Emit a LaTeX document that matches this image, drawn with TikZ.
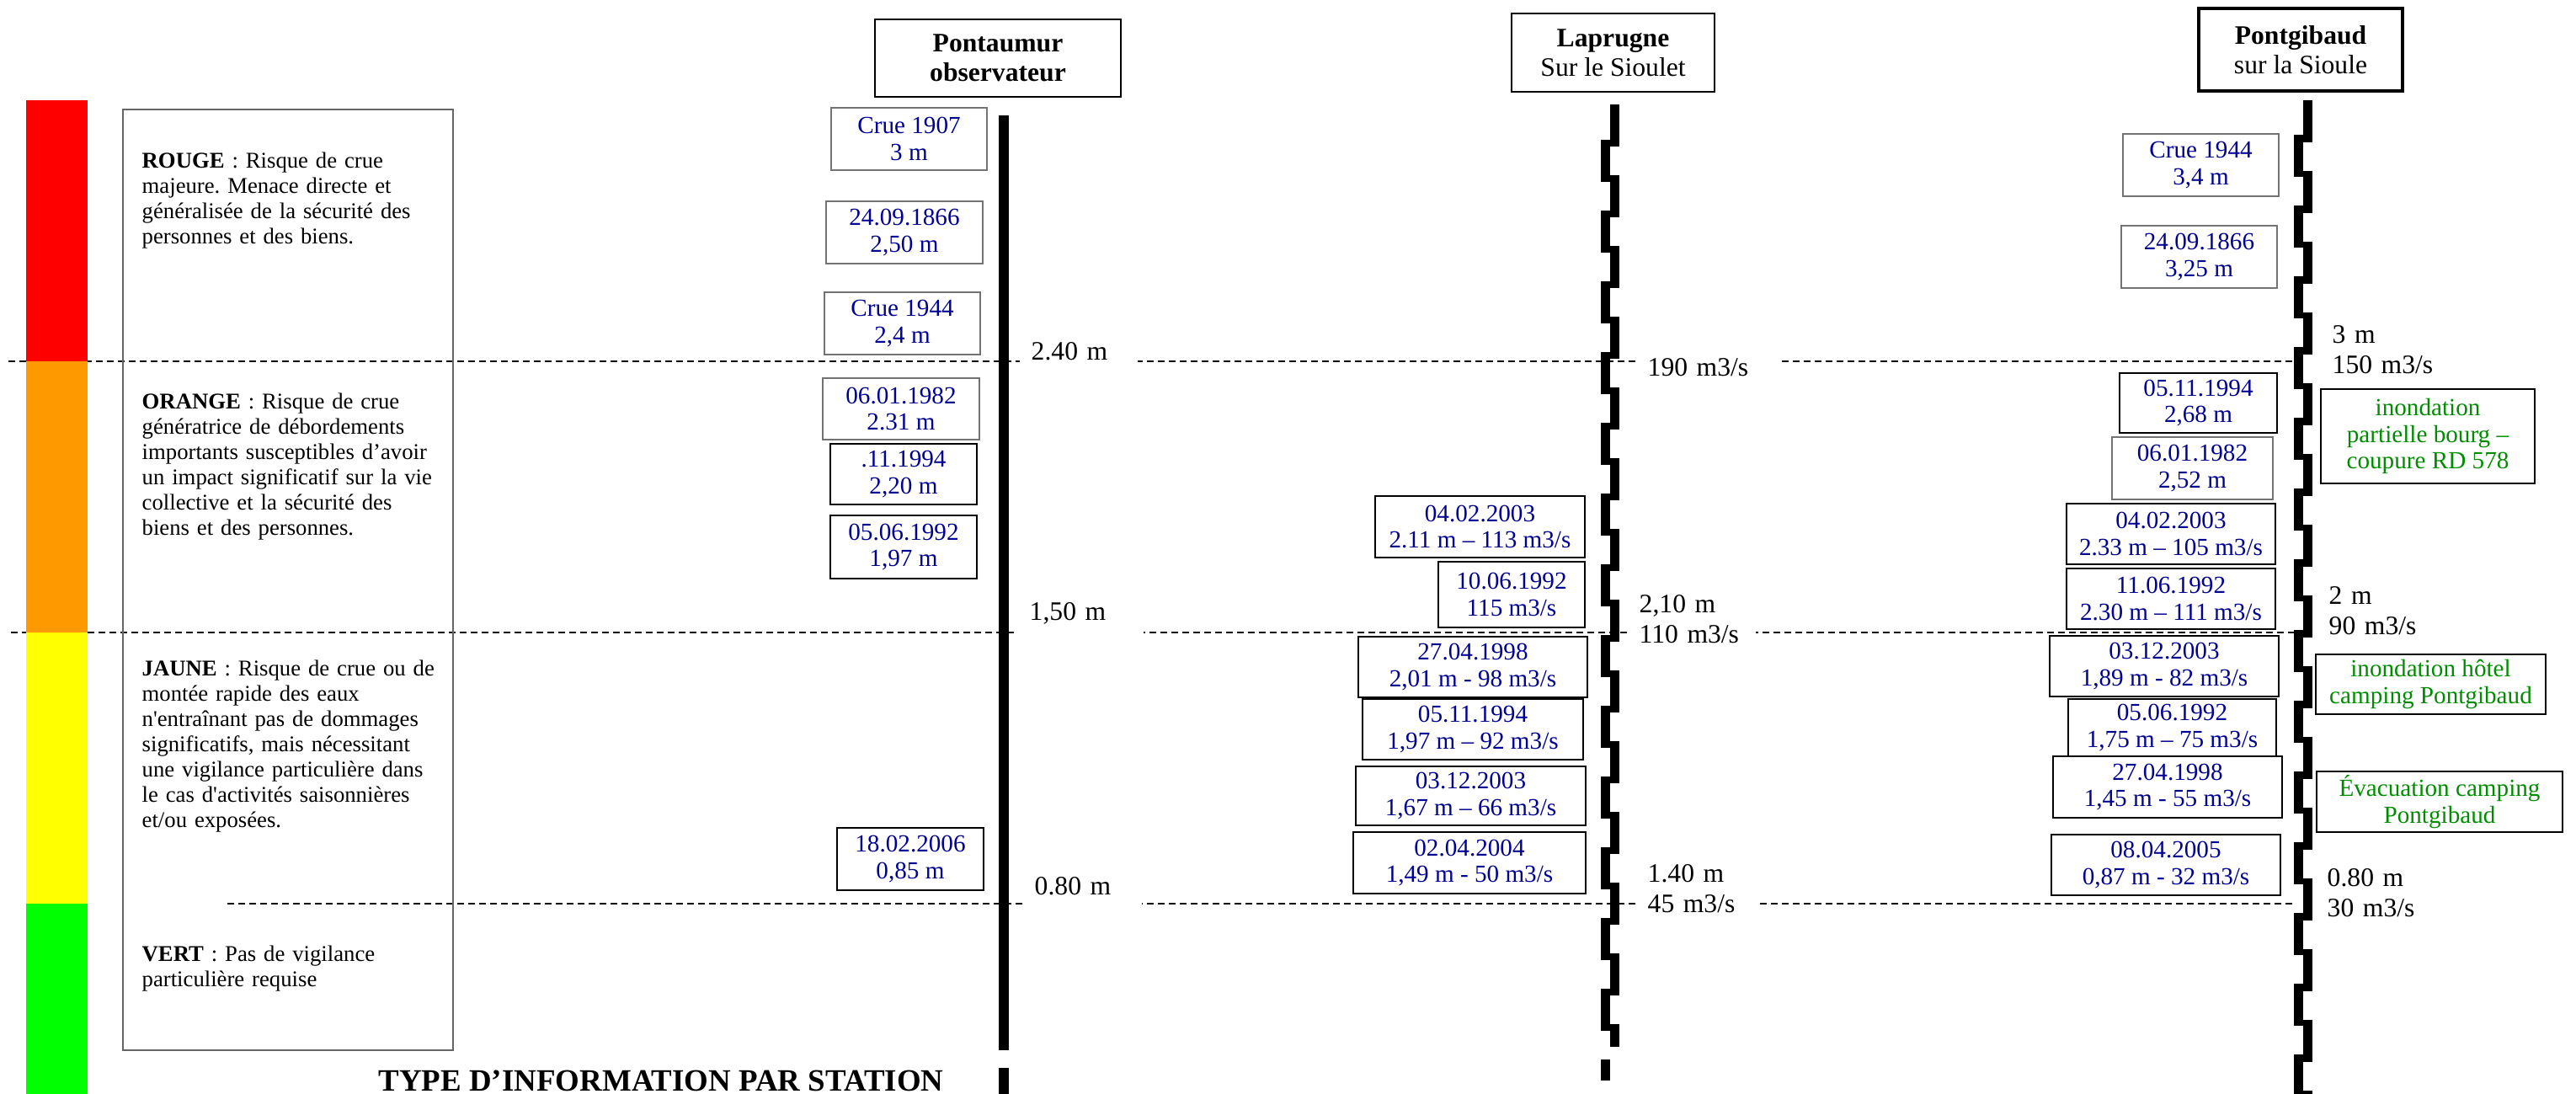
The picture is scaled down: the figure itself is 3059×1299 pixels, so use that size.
\documentclass[tikz,border=0pt]{standalone}
\usepackage{fontspec}
\setmainfont{Liberation Serif}
\usepackage{tikz}
\frenchspacing

\definecolor{evblue}{RGB}{0,0,145}
\definecolor{effgreen}{RGB}{0,140,0}
\definecolor{vigired}{RGB}{255,0,0}
\definecolor{vigiorange}{RGB}{255,153,0}
\definecolor{vigiyellow}{RGB}{255,255,0}
\definecolor{vigigreen}{RGB}{0,255,0}

\tikzset{
	station/.style={draw, line width=0.6pt, align=center, inner sep=0pt, font=\fontsize{9}{10}\selectfont},
	event/.style={draw, line width=0.5pt, align=center, inner sep=0pt, text=evblue, font=\fontsize{8.3}{8.9}\selectfont},
	eventgray/.style={event, draw=black!55, line width=0.35pt},
	effect/.style={draw, line width=0.6pt, align=center, inner sep=0pt, text=effgreen, font=\fontsize{8.3}{9}\selectfont},
	legendtext/.style={anchor=base west, align=left, text width=37mm, inner sep=0pt, font=\fontsize{7.6}{8.5}\selectfont},
	lvltxt/.style={anchor=base west, align=left, text width=12mm, inner xsep=1.4mm, inner ysep=1.6mm, font=\fontsize{9}{10}\selectfont},
	lvlbl/.style={lvltxt, fill=white},
	levelline/.style={line width=0.35pt, dash pattern=on 0.8mm off 0.5mm},
	stairs/.style={line width=1.1mm, dash pattern=on 5mm off 3.4mm}
}

\begin{document}
\begin{tikzpicture}[x=0.1mm, y=-0.1mm]
		
		\useasboundingbox (0, 0) rectangle (3059, 1299);
		
		% seuils de vigilance
		\draw [levelline] (10, 429) -- (2724, 429);
		\draw [levelline] (13, 751) -- (2724, 751);
		\draw [levelline] (270, 1073) -- (2726, 1073);
		
		\fill [vigired] (31, 119) rectangle (104, 429);
		\fill [vigiorange] (31, 429) rectangle (104, 751);
		\fill [vigiyellow] (31, 751) rectangle (104, 1073);
		\fill [vigigreen] (31, 1073) rectangle (104, 1310);
		
		\draw [black!60, line width=0.4pt] (146, 130) rectangle (538, 1247);
		
		\node (rouge) [legendtext] at (168, 200) {\textbf{ROUGE} : Risque de crue\\majeure. Menace directe et\\généralisée de la sécurité des\\personnes et des biens.};
		\node (orange) [legendtext] at (168, 486) {\textbf{ORANGE} : Risque de crue\\génératrice de débordements\\importants susceptibles d’avoir\\un impact significatif sur la vie\\collective et la sécurité des\\biens et des personnes.};
		\node (jaune) [legendtext] at (168, 803) {\textbf{JAUNE} : Risque de crue ou de\\montée rapide des eaux\\n\textquotesingle entraînant pas de dommages\\significatifs, mais nécessitant\\une vigilance particulière dans\\le cas d\textquotesingle activités saisonnières\\et/ou exposées.};
		\node (vert) [legendtext] at (168, 1142) {\textbf{VERT} : Pas de vigilance\\particulière requise};
		
		\node (typeinfo) [anchor=base west, inner sep=0pt, font=\bfseries\fontsize{10.5}{12}\selectfont] at (449, 1296) {TYPE D’INFORMATION PAR STATION};
		
		% echelles
		\draw [line width=1.2mm] (1192, 137) -- (1192, 1247);
		\draw [line width=1.2mm] (1192, 1268) -- (1192, 1310);
		
		\draw [stairs] (1917, 124) -- (1917, 1243);
		\draw [stairs] (1906, 166) -- (1906, 1283);
		
		\draw [stairs] (2740, 119) -- (2740, 1310);
		\draw [stairs] (2729.5, 160) -- (2729.5, 1310);
		
		\node (pontaumur) [station, minimum width=29.2mm, minimum height=9.2mm] at (1185, 69) {\textbf{Pontaumur}\\\textbf{observateur}};
		\node (laprugne) [station, minimum width=24.1mm, minimum height=9.3mm] at (1915.5, 62.5) {\textbf{Laprugne}\\Sur le Sioulet};
		\node (pontgibaud) [station, line width=1.1pt, minimum width=24.2mm, minimum height=9.8mm] at (2732, 59) {\textbf{Pontgibaud}\\sur la Sioule};
		
		% Pontaumur
		\node (pa1) [eventgray, minimum width=18.5mm, minimum height=7.4mm] at (1079.5, 165) {Crue 1907\\3 m};
		\node (pa2) [eventgray, minimum width=18.6mm, minimum height=7.4mm] at (1074, 276) {24.09.1866\\2,50 m};
		\node (pa3) [eventgray, minimum width=18.5mm, minimum height=7.4mm] at (1071.5, 384) {Crue 1944\\2,4 m};
		\node (pa4) [eventgray, minimum width=18.6mm, minimum height=7.3mm] at (1070, 485.5) {06.01.1982\\2.31 m};
		\node (pa5) [event, minimum width=17.4mm, minimum height=7.2mm] at (1073, 563) {.11.1994\\2,20 m};
		\node (pa6) [event, minimum width=17.4mm, minimum height=7.5mm] at (1073, 649.5) {05.06.1992\\1,97 m};
		\node (pa7) [event, minimum width=17.4mm, minimum height=7.4mm] at (1081, 1020) {18.02.2006\\0,85 m};
		
		\node (pa240) [lvlbl, text width=11.2mm] at (1210, 428) {2.40 m};
		\node (pa150) [lvlbl, text width=12.1mm] at (1208, 737) {1,50 m};
		\node (pa080) [lvlbl, text width=11.3mm] at (1214, 1063) {0.80 m};
		
		% Laprugne
		\node (la1) [event, minimum width=24.9mm, minimum height=7.3mm] at (1757.5, 625.5) {04.02.2003\\2.11 m – 113 m3/s};
		\node (la2) [event, minimum width=17.4mm, minimum height=7.8mm] at (1795, 706) {10.06.1992\\115 m3/s};
		\node (la3) [event, minimum width=27.2mm, minimum height=7.2mm] at (1749, 792) {27.04.1998\\2,01 m - 98 m3/s};
		\node (la4) [event, minimum width=26.2mm, minimum height=7.2mm] at (1749, 866) {05.11.1994\\1,97 m – 92 m3/s};
		\node (la5) [event, minimum width=27.3mm, minimum height=7.0mm] at (1746.5, 945) {03.12.2003\\1,67 m – 66 m3/s};
		\node (la6) [event, minimum width=27.6mm, minimum height=7.3mm] at (1745, 1024.5) {02.04.2004\\1,49 m - 50 m3/s};
		
		\node (la190) [lvlbl, text width=14.1mm] at (1942, 447) {190 m3/s};
		\node (la110) [lvlbl, text width=12.4mm] at (1932, 728) {2,10 m\\110 m3/s};
		\node (la045) [lvlbl, text width=11.8mm] at (1942, 1048) {1.40 m\\45 m3/s};
		
		% Pontgibaud
		\node (pg1) [eventgray, minimum width=18.5mm, minimum height=7.4mm] at (2613.5, 196) {Crue 1944\\3,4 m};
		\node (pg2) [eventgray, minimum width=18.5mm, minimum height=7.4mm] at (2611.5, 305) {24.09.1866\\3,25 m};
		\node (pg3) [event, minimum width=18.7mm, minimum height=7.1mm] at (2610.5, 478.5) {05.11.1994\\2,68 m};
		\node (pg4) [eventgray, minimum width=19.1mm, minimum height=7.4mm] at (2603.5, 556) {06.01.1982\\2,52 m};
		\node (pg5) [event, minimum width=24.8mm, minimum height=7.2mm] at (2578, 634) {04.02.2003\\2.33 m – 105 m3/s};
		\node (pg6) [event, minimum width=24.8mm, minimum height=7.2mm] at (2578, 711) {11.06.1992\\2.30 m – 111 m3/s};
		\node (pg7) [event, minimum width=27.2mm, minimum height=7.2mm] at (2570, 791) {03.12.2003\\1,89 m - 82 m3/s};
		\node (pg8) [event, minimum width=24.7mm, minimum height=6.8mm] at (2579.5, 864) {05.06.1992\\1,75 m – 75 m3/s};
		\node (pg9) [event, minimum width=27.2mm, minimum height=7.3mm] at (2574, 934.5) {27.04.1998\\1,45 m - 55 m3/s};
		\node (pg10) [event, minimum width=27.2mm, minimum height=7.2mm] at (2572, 1027) {08.04.2005\\0,87 m - 32 m3/s};
		
		\node (pg150) [lvltxt] at (2755, 408) {3 m\\150 m3/s};
		\node (pg090) [lvltxt] at (2751, 718) {2 m\\90 m3/s};
		\node (pg030) [lvltxt] at (2749, 1053) {0.80 m\\30 m3/s};
		
		\node (bourg) [effect, minimum width=25.4mm, minimum height=11.2mm] at (2883, 518) {inondation\\partielle bourg –\\coupure RD 578};
		\node (hotel) [effect, minimum width=27.3mm, minimum height=7.1mm] at (2886.5, 812.5) {inondation hôtel\\camping Pontgibaud};
		\node (camping) [effect, minimum width=29.2mm, minimum height=7.2mm] at (2897, 952) {Évacuation camping\\Pontgibaud};
		
\end{tikzpicture}
\end{document}
